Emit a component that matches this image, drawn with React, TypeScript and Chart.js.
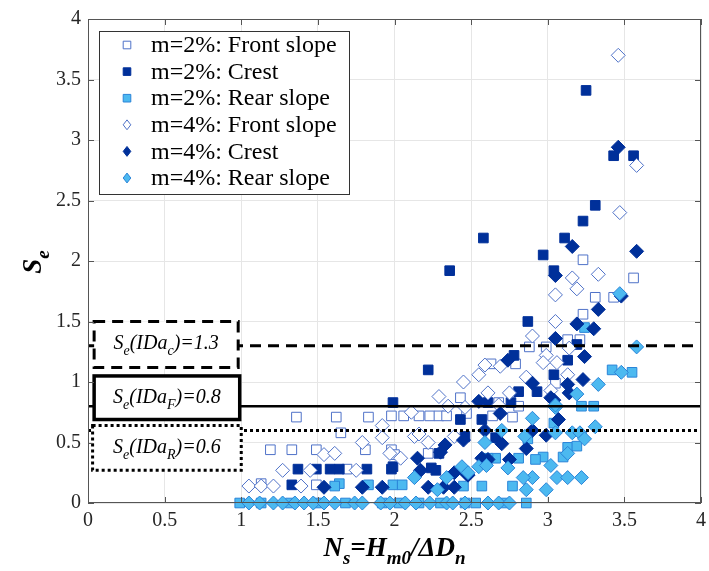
import React, { useEffect, useRef } from 'react';
import { Chart, registerables } from 'chart.js';
Chart.register(...registerables);

const FONT = '"Liberation Serif", "Times New Roman", serif';

// ---------- data (x = Ns, y = Se) ----------
const m2Front: number[][] = [
  [3.56, 1.86], [3.23, 2.01], [3.31, 1.70], [3.43, 1.70], [3.23, 1.56], [2.88, 1.29], [2.99, 1.29],
  [3.13, 1.35], [3.21, 1.35], [2.79, 1.15], [2.63, 1.15], [3.05, 0.99], [2.43, 0.87], [2.68, 0.83],
  [2.81, 0.80], [2.47, 0.74], [2.77, 0.71], [1.36, 0.71], [1.62, 0.71], [1.83, 0.71], [1.98, 0.72],
  [2.06, 0.72], [2.16, 0.72], [2.23, 0.72], [2.29, 0.72], [2.34, 0.72], [2.64, 0.72], [1.65, 0.58],
  [1.19, 0.44], [1.33, 0.44], [1.49, 0.44], [1.81, 0.44], [1.98, 0.44], [2.22, 0.41], [2.0, 0.40],
  [1.69, 0.28], [1.13, 0.16], [1.49, 0.15],
];
const m2Crest: number[][] = [
  [3.25, 3.41], [3.43, 2.87], [3.56, 2.87], [3.31, 2.46], [3.23, 2.33], [2.58, 2.19], [3.11, 2.19],
  [2.97, 2.05], [2.36, 1.92], [3.04, 1.92], [2.87, 1.50], [3.19, 1.31], [2.78, 1.22], [3.13, 1.18],
  [2.22, 1.10], [3.04, 1.06], [2.81, 0.92], [2.93, 0.92], [2.61, 0.83], [2.76, 0.83], [1.99, 0.83],
  [2.43, 0.69], [2.57, 0.69], [2.46, 0.55], [2.66, 0.54], [2.29, 0.41], [1.99, 0.30], [2.24, 0.29],
  [2.27, 0.27], [1.37, 0.28], [1.49, 0.28], [1.58, 0.28], [1.64, 0.28], [1.82, 0.28], [1.98, 0.28],
  [1.33, 0.15],
];
const m2Rear: number[][] = [
  [3.24, 1.45], [3.42, 1.10], [3.55, 1.08], [3.22, 0.80], [3.30, 0.80], [3.04, 0.66], [3.13, 0.46],
  [3.19, 0.47], [2.97, 0.38], [2.92, 0.36], [3.10, 0.38], [2.87, 0.53], [2.66, 0.37], [2.81, 0.37],
  [2.61, 0.37], [2.45, 0.14], [2.57, 0.14], [2.77, 0.14], [1.99, 0.15], [2.05, 0.15], [1.64, 0.16],
  [1.61, 0.14], [1.83, 0.15], [0.99, 0], [1.13, 0], [1.32, 0], [1.50, 0], [1.68, 0], [1.92, 0],
  [2.03, 0], [2.16, 0], [2.30, 0], [2.46, 0], [2.53, 0], [2.72, 0], [2.86, 0],
];
const m4Front: number[][] = [
  [3.46, 3.70], [3.58, 2.79], [3.47, 2.40], [3.16, 1.86], [3.33, 1.89], [3.19, 1.77], [3.05, 1.72],
  [3.05, 1.50], [2.90, 1.38], [2.99, 1.22], [3.06, 1.16], [3.14, 1.28], [2.69, 1.13], [2.59, 1.14],
  [2.55, 1.06], [2.45, 1.00], [2.86, 1.04], [3.13, 1.06], [3.02, 0.93], [2.61, 0.91], [2.75, 0.91],
  [2.29, 0.88], [2.35, 0.80], [2.11, 0.75], [2.46, 0.79], [2.68, 0.81], [2.13, 0.55], [2.16, 0.57],
  [2.39, 0.55], [2.22, 0.50], [1.92, 0.64], [1.92, 0.54], [1.79, 0.50], [2.04, 0.37], [1.54, 0.40],
  [1.61, 0.41], [1.97, 0.41], [1.27, 0.27], [1.45, 0.27], [1.75, 0.27], [1.05, 0.14], [1.13, 0.14],
  [1.21, 0.14], [1.39, 0.14], [2.97, 1.16],
];
const m4Crest: number[][] = [
  [3.46, 2.94], [3.58, 2.08], [3.16, 2.12], [3.05, 1.88], [3.33, 1.60], [3.48, 1.71], [3.19, 1.48],
  [3.30, 1.44], [3.05, 1.36], [3.24, 1.21], [2.74, 1.18], [3.23, 1.02], [2.90, 0.99], [3.13, 0.98],
  [3.14, 0.91], [3.02, 0.87], [3.04, 0.85], [2.55, 0.84], [2.69, 0.74], [3.07, 0.69], [2.59, 0.60],
  [2.90, 0.60], [2.99, 0.56], [2.45, 0.52], [2.70, 0.49], [2.86, 0.45], [2.33, 0.48], [2.30, 0.42],
  [2.61, 0.36], [2.75, 0.36], [2.57, 0.37], [2.48, 0.23], [2.15, 0.37], [2.17, 0.27], [2.39, 0.25],
  [2.47, 0.24], [2.22, 0.13], [2.32, 0.13], [2.39, 0.13], [1.54, 0.13], [1.79, 0.13], [1.92, 0.13],
];
const m4Rear: number[][] = [
  [3.47, 1.73], [3.58, 1.29], [3.48, 1.08], [3.33, 0.98], [3.19, 0.90], [3.05, 0.79], [2.90, 0.70],
  [3.05, 0.81], [2.70, 0.60], [2.59, 0.50], [3.16, 0.58], [3.21, 0.58], [3.31, 0.63], [3.24, 0.53],
  [3.05, 0.58], [3.13, 0.41], [3.02, 0.31], [2.74, 0.29], [2.55, 0.30], [2.44, 0.30], [3.06, 0.21],
  [3.13, 0.21], [3.22, 0.21], [2.90, 0.21], [2.99, 0.11], [2.86, 0.11], [2.13, 0.21], [2.28, 0.11],
  [2.34, 0.21], [2.85, 0.55], [2.84, 0.21], [2.60, 0.31], [2.48, 0.25],
  [1.05, 0], [1.12, 0], [1.21, 0], [1.27, 0], [1.35, 0], [1.41, 0], [1.47, 0], [1.54, 0], [1.61, 0],
  [1.74, 0], [1.79, 0], [1.91, 0], [1.97, 0], [2.07, 0], [2.14, 0], [2.23, 0], [2.34, 0], [2.38, 0],
  [2.46, 0], [2.61, 0], [2.68, 0], [2.75, 0],
];

const SERIES_LABELS = [
  'm=2%: Front slope', 'm=2%: Crest', 'm=2%: Rear slope',
  'm=4%: Front slope', 'm=4%: Crest', 'm=4%: Rear slope',
];
const SERIES_DATA = [m2Front, m2Crest, m2Rear, m4Front, m4Crest, m4Rear];

// thresholds
const REF_VALUES = [1.3, 0.8, 0.6];
const REF_SUBS = ['c', 'F', 'R'];
const X_TITLE = [
  { t: 'N' }, { t: 's', sub: true }, { t: '=H' }, { t: 'm0', sub: true }, { t: '/ΔD' }, { t: 'n', sub: true },
];

const NAVY = '#00309a';
const HOLLOW = '#4f72c8';
const LIGHT = '#4cb9f0';
const LIGHT_EDGE = '#2a84d8';

const STYLES = [
  { shape: 'rect', fill: '#ffffff', stroke: HOLLOW, r: 6.8 },
  { shape: 'rect', fill: NAVY, stroke: NAVY, r: 6.8 },
  { shape: 'rect', fill: LIGHT, stroke: LIGHT_EDGE, r: 6.8 },
  { shape: 'rectRot', fill: '#ffffff', stroke: HOLLOW, r: 7 },
  { shape: 'rectRot', fill: NAVY, stroke: NAVY, r: 7 },
  { shape: 'rectRot', fill: LIGHT, stroke: LIGHT_EDGE, r: 7 },
];

type Part = { t: string; sub?: boolean };

function drawRich(ctx: CanvasRenderingContext2D, parts: Part[], x: number, y: number, size: number,
  subSize: number, style: string, subDy: number, align: 'center' | 'left') {
  const mainFont = `${style} ${size}px ${FONT}`;
  const subFont = `${style} ${subSize}px ${FONT}`;
  let total = 0;
  parts.forEach(p => { ctx.font = p.sub ? subFont : mainFont; total += ctx.measureText(p.t).width; });
  let cx = align === 'center' ? x - total / 2 : x;
  ctx.textAlign = 'left';
  ctx.textBaseline = 'alphabetic';
  parts.forEach(p => {
    ctx.font = p.sub ? subFont : mainFont;
    ctx.fillText(p.t, cx, p.sub ? y + subDy : y);
    cx += ctx.measureText(p.t).width;
  });
}

function drawMarker(ctx: CanvasRenderingContext2D, shape: string, x: number, y: number, s: number, fill: string, stroke: string) {
  ctx.beginPath();
  if (shape === 'rect') ctx.rect(x - s, y - s, 2 * s, 2 * s);
  else { ctx.moveTo(x, y - s * 1.3); ctx.lineTo(x + s, y); ctx.lineTo(x, y + s * 1.3); ctx.lineTo(x - s, y); ctx.closePath(); }
  ctx.fillStyle = fill; ctx.fill();
  ctx.lineWidth = 1; ctx.strokeStyle = stroke; ctx.stroke();
}

const overlayPlugin = {
  id: 'overlay',
  afterDatasetsDraw(chart: any) {
    const { ctx, chartArea: ca, scales } = chart;
    const xs = scales.x, ys = scales.y;
    ctx.save();
    ctx.beginPath(); ctx.rect(ca.left, ca.top, ca.right - ca.left, ca.bottom - ca.top); ctx.clip();
    const lineStyles = [
      { dash: [11, 7], w: 3 }, { dash: [], w: 2.5 }, { dash: [3, 3], w: 3 },
    ];
    REF_VALUES.forEach((v, i) => {
      const py = ys.getPixelForValue(v);
      ctx.beginPath();
      ctx.setLineDash(lineStyles[i].dash);
      ctx.lineWidth = lineStyles[i].w;
      ctx.strokeStyle = '#000';
      ctx.moveTo(ca.left, py); ctx.lineTo(ca.right, py); ctx.stroke();
    });
    // label boxes
    const boxes = [
      { x0: 0.04, x1: 0.98, y0: 1.12, y1: 1.5, dash: [11, 7], w: 3 },
      { x0: 0.04, x1: 0.99, y0: 0.69, y1: 1.05, dash: [], w: 3.5 },
      { x0: 0.03, x1: 1.0, y0: 0.27, y1: 0.64, dash: [3, 3], w: 3 },
    ];
    boxes.forEach((b, i) => {
      const l = xs.getPixelForValue(b.x0), r = xs.getPixelForValue(b.x1);
      const t = ys.getPixelForValue(b.y1), bt = ys.getPixelForValue(b.y0);
      ctx.setLineDash([]);
      ctx.fillStyle = '#fff';
      ctx.fillRect(l, t, r - l, bt - t);
      ctx.setLineDash(b.dash);
      ctx.lineWidth = b.w;
      ctx.strokeStyle = '#000';
      ctx.strokeRect(l, t, r - l, bt - t);
      ctx.setLineDash([]);
      ctx.fillStyle = '#000';
      const cy = (t + bt) / 2 + 5;
      drawRich(ctx, [{ t: 'S' }, { t: 'e', sub: true }, { t: '(IDa' }, { t: REF_SUBS[i], sub: true },
        { t: ')=' + REF_VALUES[i].toFixed(1) }], (l + r) / 2, cy, 20, 14, 'italic', 6, 'center');
    });
    ctx.restore();

    // frame + inner ticks
    ctx.save();
    ctx.strokeStyle = '#555';
    ctx.lineWidth = 1;
    ctx.setLineDash([]);
    ctx.strokeRect(ca.left + 0.5, ca.top + 0.5, ca.right - ca.left - 1, ca.bottom - ca.top - 1);
    const tl = 6;
    ctx.beginPath();
    xs.ticks.forEach((tk: any) => {
      const px = Math.round(xs.getPixelForValue(tk.value)) + 0.5;
      ctx.moveTo(px, ca.bottom); ctx.lineTo(px, ca.bottom - tl);
      ctx.moveTo(px, ca.top); ctx.lineTo(px, ca.top + tl);
    });
    ys.ticks.forEach((tk: any) => {
      const py = Math.round(ys.getPixelForValue(tk.value)) + 0.5;
      ctx.moveTo(ca.left, py); ctx.lineTo(ca.left + tl, py);
      ctx.moveTo(ca.right, py); ctx.lineTo(ca.right - tl, py);
    });
    ctx.stroke();
    ctx.restore();

    // legend
    ctx.save();
    const lx = 99, ly = 31, lw = 250, lh = 163;
    ctx.fillStyle = '#fff';
    ctx.fillRect(lx, ly, lw, lh);
    ctx.strokeStyle = '#333';
    ctx.lineWidth = 1;
    ctx.strokeRect(lx + 0.5, ly + 0.5, lw, lh);
    SERIES_LABELS.forEach((lab, i) => {
      const cy = ly + 14 + i * 26.6;
      const st = STYLES[i];
      drawMarker(ctx, st.shape, 127, cy, 3.8, st.fill, st.stroke);
      ctx.fillStyle = '#000';
      ctx.font = `24px ${FONT}`;
      ctx.textAlign = 'left';
      ctx.textBaseline = 'middle';
      ctx.fillText(lab, 151, cy + 1);
    });
    ctx.restore();
  },
  afterDraw(chart: any) {
    const { ctx, chartArea: ca } = chart;
    ctx.save();
    ctx.fillStyle = '#000';
    drawRich(ctx, X_TITLE, (ca.left + ca.right) / 2, 556, 27, 19, 'italic bold', 8, 'center');
    ctx.translate(41, 262);
    ctx.rotate(-Math.PI / 2);
    drawRich(ctx, [{ t: 'S' }, { t: 'e', sub: true }], 0, 0, 27, 19, 'italic bold', 8, 'center');
    ctx.restore();
  },
};

export default function App() {
  const ref = useRef<HTMLCanvasElement>(null);
  useEffect(() => {
    const datasets = SERIES_DATA.map((d, i) => ({
      label: SERIES_LABELS[i],
      data: d.map(([x, y]) => ({ x, y })),
      pointStyle: STYLES[i].shape,
      pointRadius: STYLES[i].r,
      pointBackgroundColor: STYLES[i].fill,
      pointBorderColor: STYLES[i].stroke,
      pointBorderWidth: 1,
      showLine: false,
      clip: false,
      order: 5 - i,
    }));
    const tickFont = { family: FONT, size: 20 };
    const fmt = (v: any) => String(Number(v));
    const chart = new Chart(ref.current!, {
      type: 'scatter',
      data: { datasets } as any,
      options: {
        responsive: false,
        animation: false,
        layout: { padding: { top: 19, right: 2, left: 0, bottom: 0 } },
        plugins: { legend: { display: false }, tooltip: { enabled: false } },
        scales: {
          x: {
            type: 'linear', min: 0, max: 4,
            ticks: { stepSize: 0.5, color: '#262626', font: tickFont, padding: 6, maxRotation: 0, autoSkip: false, callback: fmt },
            grid: { color: '#e6e6e6', drawTicks: false },
            border: { display: false },
            afterFit: (s: any) => { s.height = 68; s.paddingLeft = 0; s.paddingRight = 0; },
          },
          y: {
            type: 'linear', min: 0, max: 4,
            ticks: { stepSize: 0.5, color: '#262626', font: tickFont, padding: 7, autoSkip: false, callback: fmt },
            grid: { color: '#e6e6e6', drawTicks: false },
            border: { display: false },
            afterFit: (s: any) => { s.width = 88; s.paddingTop = 0; s.paddingBottom = 0; },
          },
        } as any,
      },
      plugins: [overlayPlugin],
    });
    return () => chart.destroy();
  }, []);
  return (
    <div style={{ position: 'fixed', left: 0, top: 0, width: 709, height: 571, background: '#fff' }}>
      <canvas ref={ref} width={709} height={571} style={{ display: 'block', width: 709, height: 571 }} />
    </div>
  );
}
